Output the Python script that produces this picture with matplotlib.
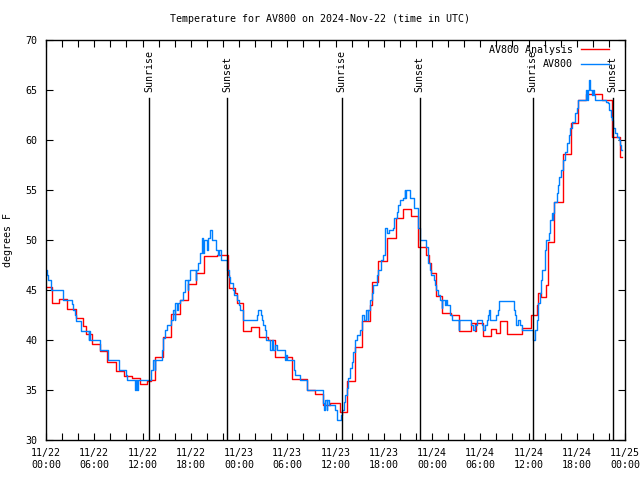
"""Temperature AV800, 2024-11-22 -> 2024-11-25 (UTC), style gnuplot."""
import numpy as np
import pandas as pd
import matplotlib
matplotlib.use("Agg")
import matplotlib.pyplot as plt
import matplotlib.dates as mdates

START = pd.Timestamp("2024-11-22 00:00")

# ── Données (heures depuis START, °F), marches ───────────────────────
analysis_h = [0.0, 0.7, 1.65, 2.65, 3.7, 4.65, 5.0, 5.75, 6.7, 7.6, 8.7, 9.7,
              10.7, 11.7, 12.6, 13.1, 13.6, 14.6, 15.6, 16.7, 17.7, 18.7, 19.6,
              21.3, 22.6, 22.8, 23.5, 23.8, 24.5, 25.5, 26.5, 27.6, 28.5, 30.6,
              32.5, 33.5, 34.4, 35.3, 36.6, 37.4, 38.4, 39.3, 40.3, 40.5, 41.3,
              42.4, 43.5, 44.4, 45.4, 46.3, 47.3, 47.6, 47.9, 48.5, 49.3, 50.4,
              51.3, 52.9, 53.3, 53.5, 54.3, 55.3, 56.0, 56.4, 57.3, 59.2, 60.3,
              61.0, 61.2, 61.6, 62.2, 62.4, 63.2, 64.3, 65.3, 66.2, 67.2, 69.1,
              70.4, 71.4, 71.6]
analysis_t = [45.3, 43.7, 44.1, 43.1, 42.2, 41.4, 40.6, 39.6, 38.9, 37.8, 36.9, 36.4,
              36.2, 35.6, 35.9, 36.0, 38.3, 40.3, 42.6, 44.0, 45.6, 46.7, 48.4,
              48.5, 46.5, 45.2, 44.7, 43.7, 40.9, 41.3, 40.3, 40.0, 38.3, 36.1,
              35.0, 34.6, 33.5, 33.7, 32.8, 35.9, 39.3, 41.9, 43.5, 45.8, 47.9,
              50.2, 52.2, 53.1, 52.4, 49.3, 48.5, 47.7, 46.7, 44.4, 42.7, 42.5,
              40.9, 41.7, 40.9, 41.7, 40.4, 41.1, 40.7, 41.9, 40.6, 41.2, 42.5,
              43.5, 44.7, 44.3, 45.5, 49.8, 53.8, 58.6, 61.7, 64.0, 64.6, 64.0,
              60.3, 58.3, 58.3]

obs_h = [0.0, 0.1, 0.3, 0.6, 2.15, 3.2, 3.3, 3.6, 3.7, 4.3, 4.4, 5.3, 5.4, 5.5,
         6.7, 7.75, 9.1, 10.0, 10.1, 11.1, 11.25, 11.35, 11.45, 13.05, 13.35,
         13.5, 13.6, 14.4, 14.6, 14.8, 15.0, 15.5, 15.8, 16.0, 16.1, 16.3, 16.4,
         16.7, 17.0, 17.3, 17.6, 17.7, 17.9, 18.6, 18.7, 18.9, 19.2, 19.4, 19.5,
         19.7, 20.0, 20.2, 20.4, 20.6, 21.2, 21.4, 21.5, 21.8, 22.55, 22.7, 22.9,
         23.2, 23.4, 23.7, 24.0, 24.1, 24.5, 26.2, 26.4, 26.7, 26.85, 27.0, 27.2,
         27.4, 27.9, 28.1, 28.2, 28.5, 28.7, 29.0, 29.7, 29.9, 30.0, 30.8, 31.0,
         31.6, 32.5, 34.4, 34.5, 34.6, 34.7, 34.9, 35.0, 35.2, 35.9, 36.2, 36.7,
         36.85, 37.0, 37.2, 37.4, 37.6, 37.8, 38.0, 38.2, 38.4, 38.7, 39.1, 39.3,
         39.6, 39.8, 40.0, 40.1, 40.3, 40.5, 40.7, 41.1, 41.3, 41.6, 41.95, 42.1,
         42.2, 42.4, 42.7, 43.2, 43.3, 43.6, 43.8, 44.0, 44.4, 44.6, 44.7, 44.8,
         45.3, 45.7, 46.2, 46.3, 46.5, 47.3, 47.5, 47.7, 47.9, 48.2, 48.4, 48.5,
         48.7, 49.0, 49.2, 49.3, 49.6, 49.8, 49.9, 50.2, 50.5, 51.3, 51.4, 52.9,
         53.1, 53.3, 53.6, 54.2, 54.4, 54.6, 54.8, 55.0, 55.1, 55.2, 56.0, 56.2,
         56.3, 58.2, 58.35, 58.5, 58.7, 58.9, 59.2, 60.5, 60.8, 61.0, 61.2, 61.4,
         61.6, 61.7, 62.0, 62.15, 62.5, 62.7, 62.9, 63.0, 63.05, 63.2, 63.5, 63.7,
         63.85, 64.1, 64.35, 64.6, 64.8, 65.0, 65.2, 65.4, 65.8, 66.0, 66.2, 67.2,
         67.3, 67.4, 67.5, 67.6, 67.9, 68.0, 68.1, 68.3, 69.6, 69.9, 70.0, 70.2,
         70.4, 70.5, 70.7, 71.0, 71.3, 71.4, 71.5, 71.6]
obs_t = [47.0, 46.5, 46.0, 45.0, 44.0, 43.6, 43.0, 42.5, 41.9, 41.4, 40.9, 40.0, 40.9, 40.0,
         39.0, 38.0, 37.0, 36.5, 36.0, 35.0, 36.0, 35.0, 36.0, 37.0, 38.0,
         37.0, 38.0, 39.0, 40.2, 41.0, 41.5, 42.0, 43.0, 42.0, 43.7, 43.0, 43.7,
         44.0, 44.8, 46.0, 45.0, 46.0, 47.0, 46.0, 47.0, 47.7, 48.7, 50.2, 48.7,
         50.0, 49.0, 50.2, 51.0, 50.0, 49.0, 48.5, 49.0, 48.0, 47.0, 46.3, 45.7,
         45.0, 44.5, 44.0, 43.5, 43.0, 42.0, 42.5, 43.0, 42.5, 42.0, 41.5, 41.0,
         40.0, 39.0, 40.0, 39.0, 39.5, 39.0, 39.0, 38.0, 38.5, 38.0, 37.0, 36.5,
         36.0, 35.0, 34.3, 33.7, 33.0, 34.0, 33.0, 34.0, 33.5, 33.0, 32.0, 32.5,
         33.0, 33.8, 34.5, 35.2, 36.2, 37.2, 37.8, 38.8, 40.0, 40.5, 41.0, 42.5,
         42.0, 43.0, 42.0, 43.0, 44.0, 44.7, 45.5, 46.5, 47.0, 48.0, 48.5, 50.0,
         51.2, 50.7, 51.0, 51.2, 52.2, 52.8, 53.5, 54.0, 54.2, 55.0, 54.2, 55.0,
         54.2, 53.2, 52.2, 51.2, 50.0, 49.3, 47.7, 47.0, 46.5, 46.0, 45.5, 45.0,
         44.5, 44.0, 43.2, 44.0, 43.5, 44.0, 43.5, 42.5, 42.0, 41.0, 42.0, 41.5,
         41.0, 41.5, 42.0, 41.5, 41.0, 41.5, 42.0, 42.5, 43.0, 42.0, 42.5, 43.0,
         43.9, 43.0, 42.5, 41.5, 42.0, 41.5, 41.0, 40.0, 41.0, 42.0, 43.7, 44.7,
         46.0, 47.0, 49.0, 50.0, 50.7, 52.0, 52.7, 52.0, 52.7, 53.8, 54.7, 55.5,
         56.3, 57.0, 58.0, 58.8, 59.7, 60.5, 61.2, 61.8, 62.7, 63.2, 64.0, 65.0,
         64.0, 65.0, 66.0, 65.0, 64.5, 65.0, 64.5, 64.0, 63.8, 63.7, 63.0, 62.3,
         62.0, 61.2, 60.7, 60.3, 60.0, 59.5, 59.0, 59.0]

sunrise_h = [12.8, 36.75, 60.5]
sunset_h = [22.5, 46.45, 70.45]


def to_dt(hours):
    return START + pd.to_timedelta(np.asarray(hours), unit="h")


FONT = "DejaVu Sans Mono"
FS = 7.2
plt.rcParams["font.family"] = FONT
plt.rcParams["font.size"] = FS

fig = plt.figure(figsize=(6.4, 4.8), dpi=100)
ax = fig.add_axes([46 / 640, 40 / 480, 579 / 640, 400 / 480])

ax.plot(to_dt(analysis_h), analysis_t, drawstyle="steps-post", color="#ff0000",
        lw=1.0, label="AV800 Analysis")
ax.plot(to_dt(obs_h), obs_t, drawstyle="steps-post", color="#0080ff",
        lw=1.0, label="AV800")

# lever / coucher du soleil
for h in sunrise_h:
    ax.axvline(to_dt([h])[0], ymin=0, ymax=0.855, color="black", lw=1.0)
    ax.text(to_dt([h])[0], 64.8, "Sunrise", rotation=90, ha="center", va="bottom")
for h in sunset_h:
    ax.axvline(to_dt([h])[0], ymin=0, ymax=0.855, color="black", lw=1.0)
    ax.text(to_dt([h])[0], 64.8, "Sunset", rotation=90, ha="center", va="bottom")

ax.set_xlim(START, START + pd.Timedelta(hours=72))
ax.set_ylim(30, 70)
ax.set_yticks(np.arange(30, 71, 5))
ax.xaxis.set_major_locator(mdates.HourLocator(byhour=[0, 6, 12, 18]))
ax.xaxis.set_minor_locator(mdates.HourLocator(byhour=range(0, 24, 2)))
ax.xaxis.set_major_formatter(mdates.DateFormatter("%m/%d\n%H:%M"))
ax.tick_params(which="both", direction="in", top=True, right=True, length=5,
               width=0.8, labelsize=FS, pad=6)
for s in ax.spines.values():
    s.set_linewidth(1.0)
ax.set_ylabel("degrees F", fontsize=FS, labelpad=9)

ax.legend(loc="upper right", frameon=False, markerfirst=False, handlelength=2.8,
          fontsize=FS, borderaxespad=0.1, labelspacing=0.45,
          bbox_to_anchor=(0.981, 1.0))

fig.text(0.5, 1 - 19 / 480, "Temperature for AV800 on 2024-Nov-22 (time in UTC)",
         ha="center", va="center", fontsize=FS)

fig.savefig("out.png", dpi=100)
